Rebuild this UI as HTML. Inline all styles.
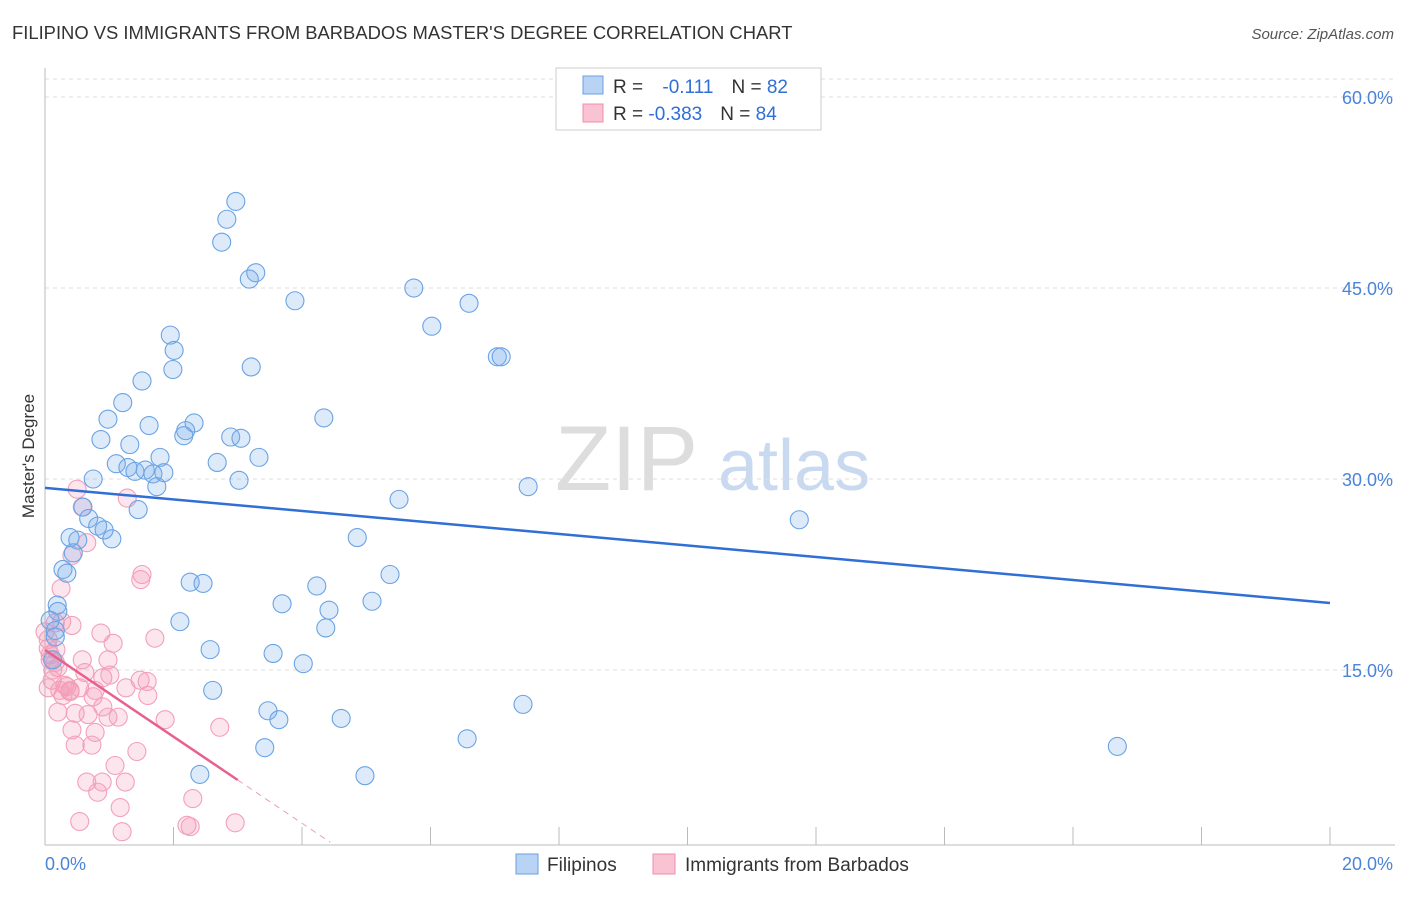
<!DOCTYPE html>
<html><head><meta charset="utf-8"><style>
body{margin:0;background:#fff;font-family:"Liberation Sans",sans-serif}
svg text{font-family:"Liberation Sans",sans-serif}
</style></head><body>
<svg id="chart" width="1406" height="892" viewBox="0 0 1406 892" xmlns="http://www.w3.org/2000/svg">
<text x="12" y="39" font-size="18.4" fill="#333">FILIPINO VS IMMIGRANTS FROM BARBADOS MASTER'S DEGREE CORRELATION CHART</text>
<text x="1394" y="39" font-size="15" fill="#555" text-anchor="end" font-style="italic">Source: ZipAtlas.com</text>
<g>
<text x="555" y="490" font-size="92" fill="#ddd" font-family="Liberation Serif">ZIP</text>
<text x="718" y="490" font-size="72" fill="#c9daf0">atlas</text>
</g>
<g id="grid"></g><g id="axes"></g><g id="pts"></g><g id="lines"></g>
<text transform="translate(34,456) rotate(-90)" font-size="17" fill="#333" text-anchor="middle">Master's Degree</text>
<g>
<rect x="556" y="68" width="265" height="62" fill="#fff" stroke="#ccc"/>
<rect x="583" y="76" width="20" height="18" fill="#b8d3f4" stroke="#6aa0e0"/>
<rect x="583" y="104" width="20" height="18" fill="#f9c3d4" stroke="#f08cab"/>
<text x="613" y="93" font-size="19" fill="#333">R = <tspan fill="#2f6fd6" dx="14">-0.111</tspan><tspan dx="18">N = </tspan><tspan fill="#2f6fd6">82</tspan></text>
<text x="613" y="120" font-size="19" fill="#333">R = <tspan fill="#2f6fd6">-0.383</tspan><tspan dx="18">N = </tspan><tspan fill="#2f6fd6">84</tspan></text>
</g>
<g>
<rect x="516" y="854" width="22" height="20" fill="#b8d3f4" stroke="#6aa0e0"/>
<text x="547" y="871" font-size="19" fill="#333">Filipinos</text>
<rect x="653" y="854" width="22" height="20" fill="#f9c3d4" stroke="#f08cab"/>
<text x="685" y="871" font-size="19" fill="#333">Immigrants from Barbados</text>
</g>
</svg>
<script>
const yTicks=[15,30,45,60];
const yTickLabels=["15.0%","30.0%","45.0%","60.0%"];
const xTicks=[0,2,4,6,8,10,12,14,16,18,20];
const blueX=[2.97,2.83,2.75,3.28,3.18,3.89,5.74,6.60,6.02,1.95,2.01,1.99,7.04,7.10,3.21,1.51,1.21,0.98,1.62,4.34,2.32,2.19,2.16,0.87,1.32,2.89,3.05,3.33,2.68,1.79,1.11,1.29,1.40,1.56,1.68,1.85,3.02,1.74,0.75,7.52,5.51,0.59,1.45,0.68,0.82,0.92,1.04,0.39,0.51,4.86,11.74,0.44,0.28,0.34,5.37,2.26,2.46,4.23,3.69,5.09,4.42,0.19,0.20,4.37,2.10,0.16,2.57,3.55,4.02,2.61,3.47,3.64,4.61,7.44,6.57,3.42,16.69,2.41,4.98,0.16,0.08,0.12];
const blueY=[51.8,50.4,48.6,46.2,45.7,44.0,45.0,43.8,42.0,41.3,40.1,38.6,39.6,39.6,38.8,37.7,36.0,34.7,34.2,34.8,34.4,33.8,33.4,33.1,32.7,33.3,33.2,31.7,31.3,31.7,31.2,30.9,30.6,30.7,30.4,30.5,29.9,29.4,30.0,29.4,28.4,27.8,27.6,26.9,26.3,26.0,25.3,25.4,25.2,25.4,26.8,24.2,22.9,22.6,22.5,21.9,21.8,21.6,20.2,20.4,19.7,20.1,19.6,18.3,18.8,17.6,16.6,16.3,15.5,13.4,11.8,11.1,11.2,12.3,9.6,8.9,9.0,6.8,6.7,18.1,18.9,15.8];
const pinkX=[0.50,1.28,0.58,0.65,0.42,0.25,1.51,1.49,0.16,0.26,0.42,0.87,1.06,1.71,0.98,0.58,0.08,0.12,0.62,0.90,1.48,1.59,0.34,0.39,0.75,1.26,1.60,0.20,0.47,0.67,0.90,0.98,1.14,1.87,2.72,0.42,0.78,0.47,0.73,1.43,1.09,0.65,0.89,0.82,1.25,2.30,1.17,0.54,2.21,2.26,2.96,1.20,0.05,0.08,0.16,0.20,0.11,0.23,0.31,0.39,0.28,0.17,0.05,0.00,0.54,0.78,1.01,0.05];
const pinkY=[29.2,28.5,27.8,25.0,24.0,21.4,22.5,22.1,18.7,18.8,18.5,17.9,17.1,17.5,15.8,15.8,15.8,15.0,14.8,14.4,14.2,14.1,13.7,13.3,12.9,13.6,13.0,11.7,11.6,11.5,12.1,11.3,11.3,11.1,10.5,10.3,10.1,9.1,9.1,8.6,7.5,6.2,6.2,5.4,6.2,4.9,4.2,3.1,2.8,2.7,3.0,2.3,16.7,16.2,15.6,15.2,14.2,13.4,13.8,13.4,13.0,16.6,17.4,18.0,13.6,13.4,14.6,13.6];
const blueLine=[29.3,20.26];
const pinkLine=[16.57,6.36,1.47];
const pinkLineX=[0,3.0,4.44];

const X=v=>45+v*64.25, Y=v=>861-v*12.733;
const NS="http://www.w3.org/2000/svg";
function mk(p,t,a){const e=document.createElementNS(NS,t);for(const k in a)e.setAttribute(k,a[k]);p.appendChild(e);return e;}
const grid=document.getElementById('grid'),axes=document.getElementById('axes'),pts=document.getElementById('pts'),lines=document.getElementById('lines');
yTicks.forEach((t,i)=>{
 const g=mk(grid,'line',{x1:45,x2:1395,y1:Y(t),y2:Y(t),stroke:'#ddd','stroke-dasharray':'4,4'});
 
 
 const l=mk(grid,'text',{x:1393,y:Y(t)+7,'font-size':18,fill:'#4a84d8','text-anchor':'end'});
 l.textContent=yTickLabels[i];
 
 
});
const gt=mk(grid,'line',{x1:45,x2:1395,y1:79,y2:79,stroke:'#ddd','stroke-dasharray':'4,4'});


const ax=mk(axes,'line',{x1:45,x2:1395,y1:845,y2:845,stroke:'#bbb'});


const ay=mk(axes,'line',{x1:45,x2:45,y1:68,y2:845,stroke:'#bbb'});


xTicks.forEach(t=>{
 const k=mk(axes,'line',{x1:X(t),x2:X(t),y1:845,y2:827,stroke:'#bbb'});
 
 
});
const x0=mk(axes,'text',{x:45,y:870,'font-size':18,fill:'#4a84d8'});x0.textContent='0.0%';


const x1=mk(axes,'text',{x:1393,y:870,'font-size':18,fill:'#4a84d8','text-anchor':'end'});x1.textContent='20.0%';


pinkX.forEach((v,i)=>{
 const c=mk(pts,'circle',{cx:X(v),cy:Y(pinkY[i]),r:9,fill:'rgba(242,150,178,0.25)',stroke:'#f3a0bb','stroke-width':1.1});
 
 
});
blueX.forEach((v,i)=>{
 const c=mk(pts,'circle',{cx:X(v),cy:Y(blueY[i]),r:9,fill:'rgba(120,170,235,0.25)',stroke:'#6aa3e3','stroke-width':1.1});
 
 
});
const bl=mk(lines,'line',{x1:X(0),y1:Y(blueLine[0]),x2:X(20),y2:Y(blueLine[1]),stroke:'#2f6fd6','stroke-width':2.5});


const pl=mk(lines,'line',{x1:X(pinkLineX[0]),y1:Y(pinkLine[0]),x2:X(pinkLineX[1]),y2:Y(pinkLine[1]),stroke:'#e8608e','stroke-width':2.5});


const pd=mk(lines,'line',{x1:X(pinkLineX[1]),y1:Y(pinkLine[1]),x2:X(pinkLineX[2]),y2:Y(pinkLine[2]),stroke:'#e8a0b8','stroke-width':1,'stroke-dasharray':'6,5'});


</script>
</body></html>
